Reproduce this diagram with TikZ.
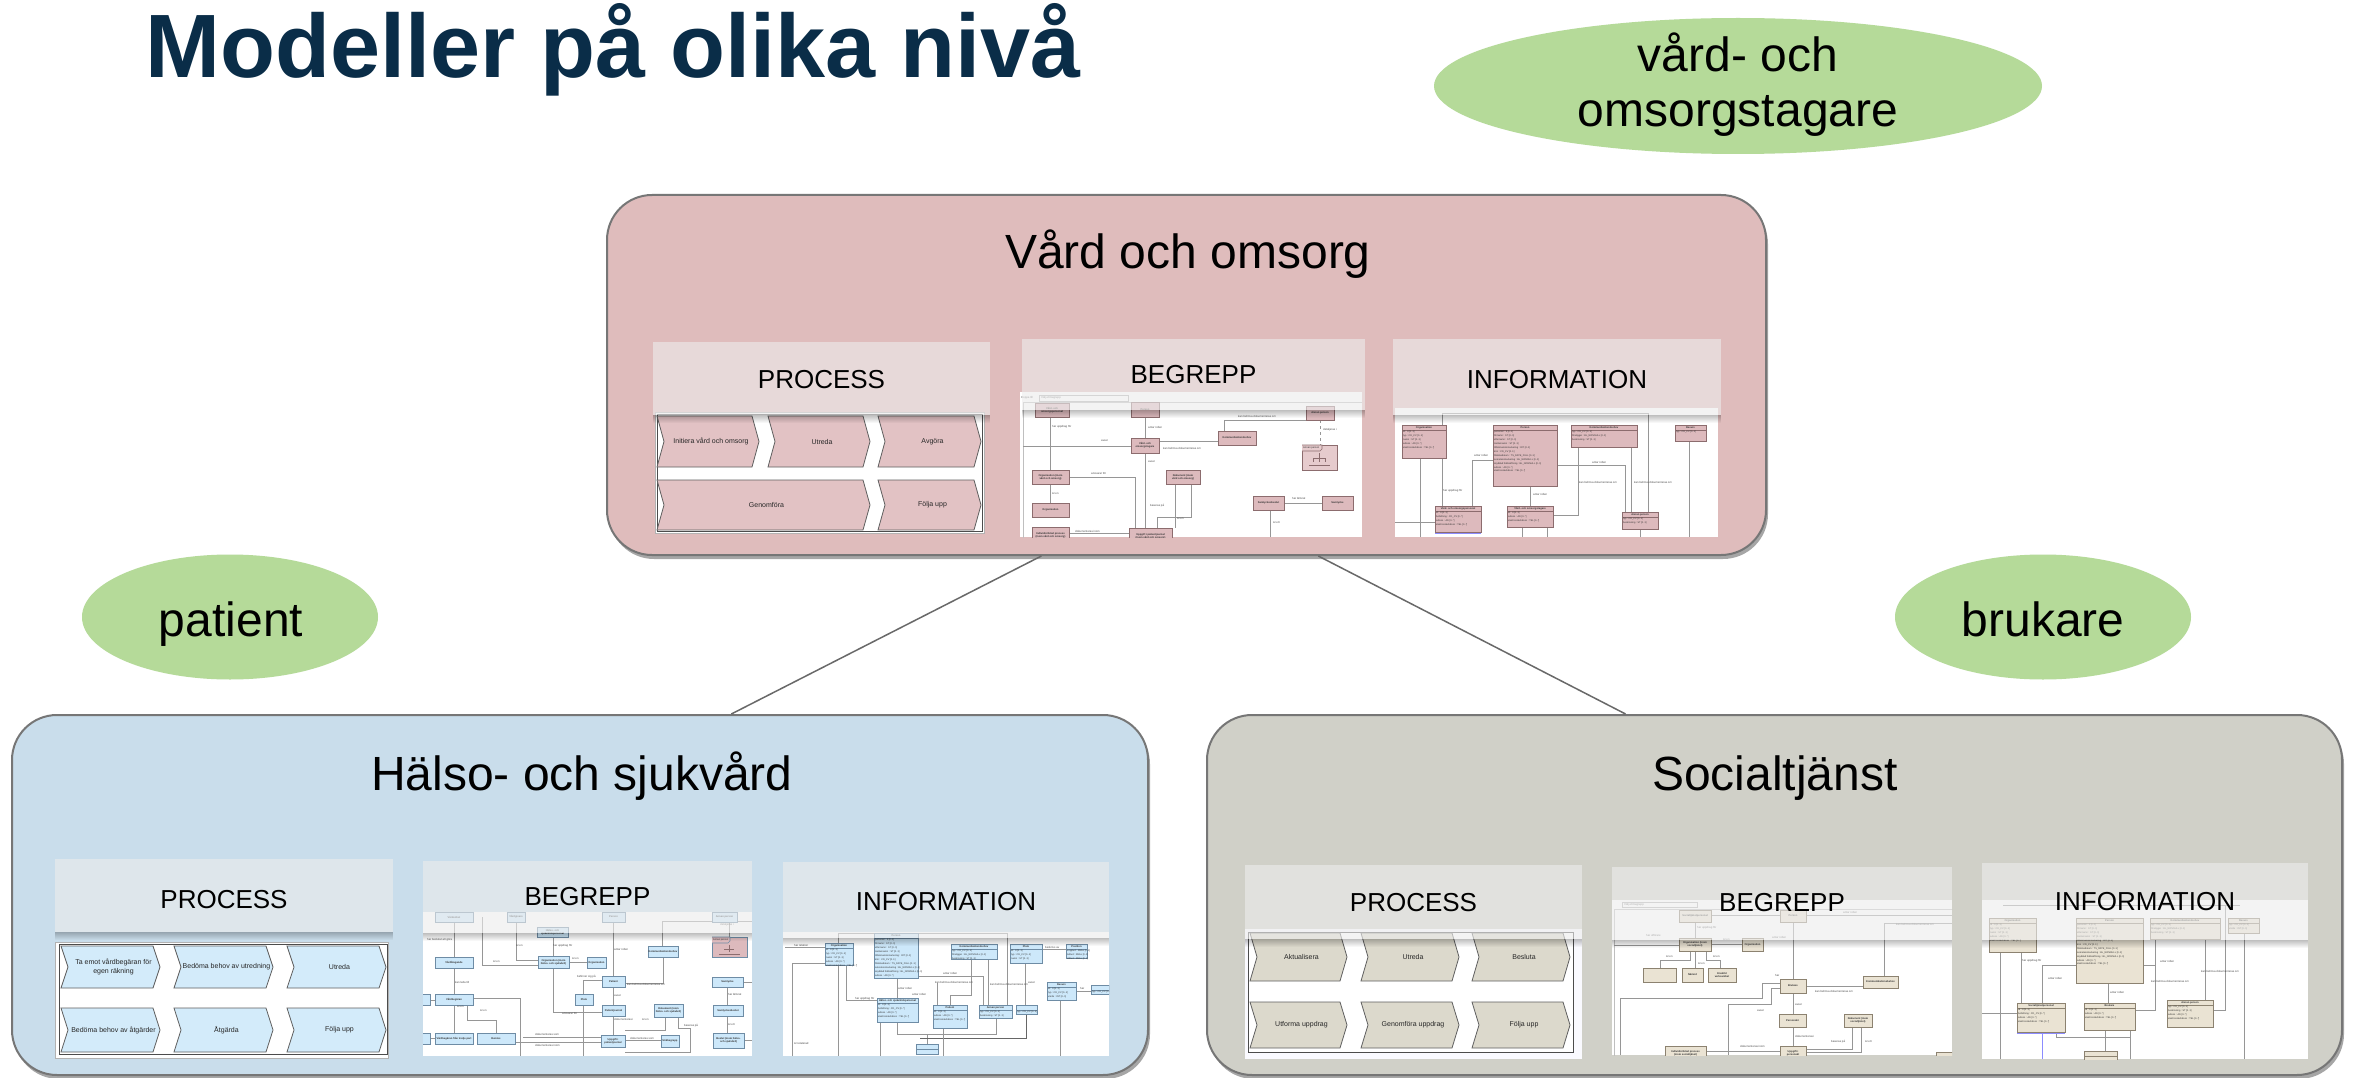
\documentclass[tikz,border=0pt]{standalone}
\usepackage{fontspec}
\setmainfont{Liberation Sans}
\usetikzlibrary{shadows,fadings,calc,shapes.geometric}
\definecolor{titleblue}{RGB}{10,45,72}
\definecolor{ellgreen}{RGB}{181,218,153}
\definecolor{pinkpanel}{RGB}{223,188,188}
\definecolor{bluepanel}{RGB}{201,221,235}
\definecolor{greypanel}{RGB}{208,208,200}
\definecolor{paneledge}{RGB}{118,118,118}
\definecolor{conncol}{RGB}{105,105,105}
\definecolor{hdrfill}{RGB}{236,236,236}
\definecolor{chevpink}{RGB}{226,194,196}
\definecolor{chevblue}{RGB}{211,235,250}
\definecolor{chevbeige}{RGB}{220,217,204}
\definecolor{chevedge}{RGB}{95,95,95}
\definecolor{umlpink}{RGB}{221,186,189}
\definecolor{umlPedge}{RGB}{140,108,110}
\definecolor{umlblue}{RGB}{205,232,250}
\definecolor{umlBedge}{RGB}{110,140,165}
\definecolor{umlbeige}{RGB}{234,227,211}
\definecolor{umlGedge}{RGB}{140,130,112}
\definecolor{ulinecol}{RGB}{150,150,150}
\newcounter{nn}
% tiny label
\newcommand{\tl}[3]{\stepcounter{nn}\node[tinylbl, anchor=west] (tl\arabic{nn}) at (#1,#2) {#3};}
% simple concept box
\newcommand{\ubx}[5]{\stepcounter{nn}\draw[ubox] (#1,#2) rectangle (#3,#4);
 \node[boxlbl] (bx\arabic{nn}) at ({(#1+#3)/2},{(#2+#4)/2}) {#5};}
% class box
\newcommand{\ucl}[6]{\stepcounter{nn}\draw[ubox] (#1,#2) rectangle (#3,#4);
 \draw[ubox] (#1,#2) rectangle (#3,{#2+5});
 \node[boxlbl] (ct\arabic{nn}) at ({(#1+#3)/2},{#2+2.6}) {#5};
 \node[attrlbl, anchor=north west] (ca\arabic{nn}) at ({#1+1},{#2+6}) {#6};}
% header overlay
\newcommand{\hdr}[7]{\fill[black, path fading=south, fill opacity=0.25] (#2,#5) rectangle (#4,{#5+8});
 \fill[hdrfill, fill opacity=0.62] (#2,#3) rectangle (#4,#5);
 \node[hdrtext] (#1) at ({(#2+#4)/2},#6) {#7};}
% chevron
\newcommand{\chev}[7]{\draw[chevron, fill=#6] (#2,#3) -- ({#4-7},#3) -- (#4,{(#3+#5)/2}) -- ({#4-7},#5) -- (#2,#5) -- ({#2+7},{(#3+#5)/2}) -- cycle;
 \node[chevtext] (#1) at ({(#2+#4)/2+3},{(#3+#5)/2}) {#7};}
\begin{document}
\begin{tikzpicture}[x=1pt,y=-1pt,
 panel/.style={draw=paneledge, line width=2pt, rounded corners=45pt, inner sep=0pt,
   drop shadow={shadow xshift=2pt, shadow yshift=-4pt, opacity=0.35, fill=black}},
 ell/.style={ellipse, fill=ellgreen, draw=none, inner sep=0pt},
 bigtext/.style={font=\fontsize{48}{56}\selectfont, text=black, inner sep=0pt},
 conn/.style={draw=conncol, line width=1.5pt},
 hdrtext/.style={font=\fontsize{26}{30}\selectfont, text=black, inner sep=0pt},
 chevron/.style={draw=chevedge, line width=0.8pt},
 chevtext/.style={font=\fontsize{7}{8.4}\selectfont, align=center, text=black!85, inner sep=0pt},
 frameo/.style={draw=gray!60, line width=0.8pt, fill=white},
 framei/.style={draw=black!70, line width=1pt},
 uline/.style={draw=ulinecol, line width=0.7pt},
 tinylbl/.style={font=\fontsize{2.8}{3.2}\selectfont, text=black!70, inner sep=0pt},
 boxlbl/.style={font=\bfseries\fontsize{2.6}{3.1}\selectfont, align=center, text=black!80, inner sep=0pt},
 attrlbl/.style={font=\fontsize{2.4}{3.9}\selectfont, align=left, text=black!80, inner sep=0pt},
 ubox/.style={draw=gray, fill=white, line width=0.6pt}]
\useasboundingbox (0,0) rectangle (2354,1078);
\fill[white] (0,0) rectangle (2354,1078);

% ---------- title ----------
\node[anchor=base west, inner sep=0pt, text=titleblue, font=\bfseries\fontsize{90}{100}\selectfont] (title) at (145,78) {Modeller på olika nivå};

% ---------- ellipses ----------
\node[ell, minimum width=608pt, minimum height=136pt] (vot) at (1738,86) {};
\node[bigtext, anchor=base] (votA) at (1738,72) {vård- och};
\node[bigtext, anchor=base] (votB) at (1738,127) {omsorgstagare};
\node[ell, minimum width=296pt, minimum height=125pt] (pat) at (230,617) {};
\node[bigtext, anchor=base] (patl) at (231,636) {patient};
\node[ell, minimum width=296pt, minimum height=125pt] (bru) at (2043,617) {};
\node[bigtext, anchor=base] (brul) at (2043,636) {brukare};

% ---------- panels ----------
\node[panel, fill=pinkpanel, minimum width=1159pt, minimum height=360pt] (vo) at (1186.5,375) {};
\node[panel, fill=bluepanel, minimum width=1136pt, minimum height=360pt] (hs) at (580,895) {};
\node[panel, fill=greypanel, minimum width=1135pt, minimum height=360pt] (st) at (1774.5,895) {};
\draw[conn] ($(vo.south west)!0.375!(vo.south east)$) -- ($(hs.north west)!0.633!(hs.north east)$);
\draw[conn] ($(vo.south west)!0.6135!(vo.south east)$) -- ($(st.north west)!0.369!(st.north east)$);
\node[bigtext, anchor=base] (vol) at (1188,269) {Vård och omsorg};
\node[bigtext, anchor=base] (hsl) at (582,790) {Hälso- och sjukvård};
\node[bigtext, anchor=base] (stl) at (1775,790) {Socialtjänst};

% ================= TOP PANEL =================
% PROCESS image
\draw[frameo] (655,412) rectangle (984,533);
\draw[framei] (657,414) rectangle (982,531);
\chev{tp1}{657}{416}{759}{467}{chevpink}{Initiera vård och omsorg}
\chev{tp2}{768}{416}{870}{467}{chevpink}{Utreda}
\chev{tp3}{878}{416}{981}{467}{chevpink}{Avgöra}
\chev{tp4}{657}{480}{870}{530}{chevpink}{Genomföra}
\chev{tp5}{878}{480}{981}{530}{chevpink}{Följa upp}

% BEGREPP image
\begin{scope}[ubox/.style={draw=umlPedge, fill=umlpink, line width=0.6pt}]
\clip (1020,392) rectangle (1362,537);
\fill[white] (1020,392) rectangle (1362,537);
\tl{1021}{398}{Hoppa till}
\draw[gray!60, line width=0.5pt, fill=white] (1039,395) rectangle (1128,401);
\tl{1041}{398}{Välj ett begrepp}
\draw[gray!50, line width=0.6pt] (1023,402) rectangle (1400,600);
\draw[uline] (1050,417) -- (1050,470);
\draw[uline] (1145,417) -- (1145,438);
\draw[uline] (1145,453) -- (1145,528);
\draw[uline] (1023,446) -- (1131,446);
\draw[uline] (1159,441) -- (1218,441);
\draw[uline] (1224,431) -- (1224,420) -- (1306,420);
\draw[uline, dashed] (1320,420) -- (1320,445);
\draw[uline] (1050,484) -- (1050,503);
\draw[uline] (1069,477) -- (1135,477) -- (1135,528);
\draw[uline] (1175,484) -- (1175,528);
\draw[uline] (1191,484) -- (1191,517) -- (1157,517) -- (1157,528);
\draw[uline] (1284,503) -- (1322,503);
\draw[uline] (1270,510) -- (1270,537);
\draw[uline] (1069,533) -- (1129,533);
\ubx{1035}{403}{1069}{417}{Vård- och\\omsorgspersonal}
\ubx{1131}{402}{1159}{417}{Person}
\ubx{1306}{406}{1334}{420}{Annan person}
\ubx{1218}{431}{1256}{445}{Kommunikationsbehov}
\ubx{1131}{438}{1159}{453}{Vård- och\\omsorgstagare}
\draw[ubox, fill=umlpink!75] (1302,445) rectangle (1337,470);
\draw[ubox, fill=umlpink!75] (1302,445) -- (1322,445) -- (1322,449) -- (1320,451) -- (1302,451);
\node[boxlbl, font=\fontsize{2.6}{3}\selectfont, anchor=west] (apk) at (1303,448) {Annan person};
\draw[umlPedge, line width=0.4pt] (1319,453) -- (1319,462) (1313,458) -- (1325,458) (1313,458) -- (1313,462) (1325,458) -- (1325,462) (1309,465) -- (1330,465);
\ubx{1032}{470}{1069}{484}{Organisation (inom\\vård och omsorg)}
\ubx{1166}{470}{1200}{484}{Dokument (inom\\vård och omsorg)}
\ubx{1032}{503}{1069}{517}{Organisation}
\ubx{1253}{496}{1284}{510}{Samtyckesbeslut}
\ubx{1322}{496}{1353}{510}{Samtycke}
\ubx{1032}{527}{1069}{543}{Individinriktad process\\(inom vård och omsorg)}
\ubx{1129}{528}{1172}{544}{Uppgift i patientjournal\\(inom vård och omsorg)}
\tl{1052}{427}{har uppdrag för}
\tl{1148}{427}{antar rollen}
\tl{1101}{441}{avser}
\tl{1163}{448}{kan behöva dokumenteras om}
\tl{1148}{462}{avser}
\tl{1091}{473}{ansvarar för}
\tl{1052}{494}{är en}
\tl{1150}{506}{baseras på}
\tl{1177}{519}{är en}
\tl{1292}{498}{har lämnat}
\tl{1273}{523}{är ett}
\tl{1075}{531}{dokumenteras inom}
\tl{1238}{416}{kan behöva dokumenteras om}
\tl{1323}{430}{detaljeras i}
\end{scope}

% INFORMATION image
\begin{scope}[ubox/.style={draw=umlPedge, fill=umlpink, line width=0.6pt}]
\clip (1395,408) rectangle (1718,537);
\fill[white] (1395,408) rectangle (1718,537);
\draw[uline] (1442,413) -- (1648,413);
\draw[uline] (1442,413) -- (1442,425);
\draw[uline] (1648,413) -- (1648,512);
\draw[uline] (1420,458) -- (1420,537);
\draw[uline] (1442,458) -- (1442,506);
\draw[uline] (1493,460) -- (1472,460) -- (1472,506);
\draw[uline] (1530,486) -- (1530,506);
\draw[uline] (1557,465) -- (1625,465) -- (1625,512);
\draw[uline] (1578,447) -- (1578,515) -- (1553,515);
\draw[uline] (1631,447) -- (1631,512);
\draw[uline] (1689,441) -- (1689,537);
\draw[uline] (1395,522) -- (1435,522);
\draw[uline] (1522,527) -- (1522,537);
\draw[uline] (1547,527) -- (1547,537);
\draw[uline] (1640,529) -- (1640,537);
\ucl{1402}{425}{1446}{458}{Organisation}{id : II [0..1]\\typ : CD\_CV [0..1]\\namn : ST [0..1]\\adress : AD [0..*]\\elektroniskAdress : TEL [0..*]}
\ucl{1493}{425}{1557}{486}{Person}{personId : II [0..1]\\förnamn : ST [0..1]\\efternamn : ST [0..1]\\mellannamn : ST [0..1]\\tilltalsnamnsmarkering : INT [0..1]\\kön : CD\_CV [0..1]\\födelsedatum : TS\_DATE\_FULL [0..1]\\sekretessmarkering : BL\_NONNULL [0..1]\\skyddad folkbokföring : BL\_NONNULL [0..1]\\adress : AD [0..*]\\elektroniskAdress : TEL [0..*]}
\ucl{1571}{425}{1637}{447}{Kommunikationsbehov}{typ : CD\_CV [0..1]\\föreligger : BL\_NONNULL [0..1]\\beskrivning : ST [0..1]}
\ucl{1675}{425}{1706}{441}{Resurs}{typ : CD\_CV [0..1]}
\ucl{1435}{506}{1481}{532}{Vård- och omsorgspersonal}{id : II [0..1]\\befattning : CD\_CV [0..*]\\adress : AD [0..*]\\elektroniskAdress : TEL [0..*]}
\ucl{1507}{506}{1553}{527}{Vård- och omsorgstagare}{id : II [0..1]\\adress : AD [0..*]\\elektroniskAdress : TEL [0..*]}
\ucl{1622}{512}{1658}{529}{Annan person}{typ : CD\_CV [0..1]\\beskrivning : ST [0..1]}
\draw[blue!45, line width=1pt] (1435,533) -- (1481,533);
\tl{1443}{491}{har uppdrag för}
\tl{1474}{455}{antar rollen}
\tl{1533}{494}{antar rollen}
\tl{1579}{482}{kan behöva dokumenteras om}
\tl{1592}{462}{antar rollen}
\tl{1634}{482}{kan behöva dokumenteras om}
\end{scope}

\hdr{vop}{653}{342}{990}{415}{380}{PROCESS}
\hdr{vob}{1022}{339}{1365}{410}{375}{BEGREPP}
\hdr{voi}{1393}{339}{1721}{415}{380}{INFORMATION}

% ================= HÄLSO- OCH SJUKVÅRD =================
\draw[frameo] (55,942) rectangle (388,1058);
\draw[framei] (59,944) rectangle (387,1054);
\chev{hp1}{61}{946}{160}{988}{chevblue}{Ta emot vårdbegäran för\\egen räkning}
\chev{hp2}{174}{946}{273}{988}{chevblue}{Bedöma behov av utredning}
\chev{hp3}{287}{946}{386}{988}{chevblue}{Utreda}
\chev{hp4}{61}{1008}{160}{1052}{chevblue}{Bedöma behov av åtgärder}
\chev{hp5}{174}{1008}{273}{1052}{chevblue}{Åtgärda}
\chev{hp6}{287}{1008}{386}{1052}{chevblue}{Följa upp}

\begin{scope}[ubox/.style={draw=umlBedge, fill=umlblue, line width=0.6pt}]
\clip (423,912) rectangle (752,1056);
\fill[white] (423,912) rectangle (752,1056);
\draw[uline] (454,922) -- (454,1033);
\draw[uline] (482,917) -- (482,965) -- (538,965);
\draw[uline] (516,922) -- (516,960) -- (538,960);
\draw[uline] (553,937) -- (553,956);
\draw[uline] (569,962) -- (587,962);
\draw[uline] (553,968) -- (553,1012) -- (602,1012);
\draw[uline] (613,922) -- (613,1035);
\draw[uline] (662,921) -- (662,946);
\draw[uline] (662,921) -- (752,921);
\draw[uline] (663,957) -- (663,983) -- (625,983);
\draw[uline] (602,980) -- (583,980) -- (583,1056);
\draw[uline] (727,987) -- (727,1033);
\draw[uline] (665,1017) -- (665,1030) -- (625,1030);
\draw[uline] (678,1017) -- (678,1028) -- (690,1028) -- (690,1052) -- (625,1052);
\draw[uline] (473,998) -- (520,998) -- (520,1056);
\draw[uline] (467,1005) -- (467,1020) -- (496,1020) -- (496,1033);
\draw[uline] (423,1000) -- (435,1000);
\draw[uline] (423,1038) -- (435,1038);
\draw[uline] (625,1040) -- (661,1040);
\draw[uline] (523,1037) -- (601,1037);
\draw[uline] (515,1042) -- (601,1042);
\draw[uline] (744,1040) -- (752,1040);
\draw[uline] (729,937) -- (729,922);
\draw[uline] (743,982) -- (752,982);
\ubx{435}{912}{473}{922}{Vårdenhet}
\ubx{507}{912}{525}{922}{Vårdgivare}
\ubx{602}{912}{625}{922}{Person}
\ubx{712}{912}{737}{922}{Annan person}
\ubx{537}{927}{568}{937}{Hälso- och\\sjukvårdspersonal}
\draw[ubox, fill=umlpink] (712,937) rectangle (747,957);
\draw[ubox, fill=umlpink] (712,937) -- (730,937) -- (730,941) -- (728,943) -- (712,943);
\node[boxlbl, font=\fontsize{2.4}{3}\selectfont, anchor=west] (apk2) at (713,940) {Annan person};
\draw[umlPedge, line width=0.4pt] (729,945) -- (729,952) (724,949) -- (734,949) (719,954) -- (740,954);
\ubx{435}{957}{473}{968}{Vårdåtagande}
\ubx{538}{956}{569}{968}{Organisation (inom\\hälso- och sjukvård)}
\ubx{587}{957}{606}{968}{Organisation}
\ubx{648}{946}{678}{957}{Kommunikationsbehov}
\ubx{602}{976}{625}{987}{Patient}
\ubx{712}{977}{743}{987}{Samtycke}
\ubx{435}{994}{473}{1005}{Vårdbegäran}
\ubx{575}{994}{593}{1005}{Plats}
\ubx{415}{994}{430}{1005}{}
\ubx{602}{1005}{625}{1016}{Patientjournal}
\ubx{654}{1004}{683}{1017}{Dokument (inom\\hälso- och sjukvård)}
\ubx{713}{1005}{743}{1016}{Samtyckesbeslut}
\ubx{435}{1033}{473}{1044}{Vårdbegäran från tredje part}
\ubx{477}{1033}{515}{1044}{Remiss}
\ubx{415}{1033}{430}{1044}{}
\ubx{601}{1035}{625}{1047}{Uppgift i\\patientjournal}
\ubx{661}{1035}{679}{1047}{Sökbegrepp}
\ubx{713}{1033}{744}{1048}{Beslut (inom hälso-\\och sjukvård)}
\tl{427}{940}{har beslutat att göra}
\tl{516}{946}{är en}
\tl{553}{946}{har uppdrag för}
\tl{614}{949}{antar rollen}
\tl{493}{962}{är en}
\tl{572}{959}{är en}
\tl{720}{925}{detaljeras i}
\tl{455}{982}{kan leda till}
\tl{577}{977}{befinner sig på}
\tl{627}{984}{kan behöva dokumenteras om}
\tl{614}{996}{avser}
\tl{457}{1007}{är en}
\tl{480}{1011}{är en}
\tl{562}{1013}{ansvarar för}
\tl{614}{1019}{dokumenteras i}
\tl{642}{1020}{är en}
\tl{728}{994}{har lämnat}
\tl{684}{1026}{baseras på}
\tl{728}{1025}{är ett}
\tl{535}{1034}{dokumenteras som}
\tl{535}{1045}{dokumenteras inom}
\tl{630}{1038}{dokumenteras som}
\end{scope}

\begin{scope}[ubox/.style={draw=umlBedge, fill=umlblue, line width=0.6pt}]
\clip (783,932) rectangle (1109,1056);
\fill[white] (783,932) rectangle (1109,1056);
\draw[uline] (838,933) -- (1007,933);
\draw[uline] (838,933) -- (838,943);
\draw[uline] (1007,933) -- (1007,1005);
\draw[uline] (785,947) -- (825,947);
\draw[uline] (792,963) -- (825,963);
\draw[uline] (792,963) -- (792,1056);
\draw[uline] (838,965) -- (838,1056);
\draw[uline] (846,965) -- (846,1000) -- (877,1000);
\draw[uline] (897,978) -- (897,998);
\draw[uline] (918,976) -- (983,976) -- (983,1005);
\draw[uline] (937,983) -- (937,1005);
\draw[uline] (971,959) -- (971,995) -- (950,995) -- (950,1005);
\draw[uline] (988,959) -- (988,1005);
\draw[uline] (1025,963) -- (1025,1005);
\draw[uline] (1042,949) -- (1066,949);
\draw[uline] (1076,991) -- (1091,991);
\draw[uline] (1060,1000) -- (1060,1056);
\draw[uline] (897,1022) -- (897,1034) -- (996,1034) -- (996,1018);
\draw[uline] (927,1034) -- (927,1044);
\draw[uline, line width=1pt, black!60] (920,1038) -- (1026,1038) -- (1026,1014);
\draw[uline] (943,1028) -- (943,1056);
\draw[uline] (880,1022) -- (880,1056);
\ucl{825}{943}{853}{965}{Organisation}{id : II [0..1]\\typ : CD\_CV [0..1]\\namn : ST [0..1]\\adress : AD [0..*]\\elektroniskAdress : TEL [0..*]}
\ucl{874}{933}{918}{978}{Person}{personId : II [0..1]\\förnamn : ST [0..1]\\efternamn : ST [0..1]\\mellannamn : ST [0..1]\\tilltalsnamnsmarkering : INT [0..1]\\kön : CD\_CV [0..1]\\födelsedatum : TS\_DATE\_FULL [0..1]\\sekretessmarkering : BL\_NONNULL [0..1]\\skyddad folkbokföring : BL\_NONNULL [0..1]\\adress : AD [0..*]}
\ucl{951}{944}{997}{959}{Kommunikationsbehov}{typ : CD\_CV [0..1]\\föreligger : BL\_NONNULL [0..1]\\beskrivning : ST [0..1]}
\ucl{1010}{944}{1042}{963}{Plats}{id : II [0..1]\\typ : CD\_CV [0..1]\\namn : ST [0..1]}
\ucl{1066}{944}{1087}{958}{Position}{longitud : REAL [0..1]\\latitud : REAL [0..1]\\altitud : REAL [0..1]}
\ucl{877}{998}{918}{1022}{Hälso- och sjukvårdspersonal}{id : II [0..1]\\befattning : CD\_CV [0..*]\\adress : AD [0..*]\\elektroniskAdress : TEL [0..*]}
\ucl{933}{1005}{967}{1028}{Patient}{id : II [0..1]\\adress : AD [0..*]\\elektroniskAdress : TEL [0..*]}
\ucl{979}{1005}{1012}{1018}{Annan person}{typ : CD\_CV [0..1]\\beskrivning : ST [0..1]}
\ucl{1016}{1005}{1037}{1014}{}{typ : CD\_CV [0..1]}
\ucl{1047}{982}{1076}{1000}{Resurs}{id : II [0..1]\\typ : CD\_CV [0..1]\\värde : INT [0..1]}
\ucl{1091}{985}{1109}{994}{}{typ : CD\_CV [0..1]}
\ucl{916}{1044}{938}{1054}{}{}
\tl{855}{999}{har uppdrag för}
\tl{898}{988}{antar rollen}
\tl{912}{994}{antar rollen}
\tl{935}{982}{kan behöva dokumenteras om}
\tl{943}{973}{antar rollen}
\tl{990}{984}{kan behöva dokumenteras om}
\tl{1028}{983}{avser}
\tl{1045}{947}{beskrivs av}
\tl{1080}{988}{har}
\tl{794}{945}{har relation}
\tl{794}{1043}{är relaterad}
\end{scope}

\hdr{hsp}{55}{859}{393}{932}{900}{PROCESS}
\hdr{hsb}{423}{861}{752}{933}{897}{BEGREPP}
\hdr{hsi}{783}{862}{1109}{938}{902}{INFORMATION}

% ================= SOCIALTJÄNST =================
\fill[white!95!blue!40] (1245,929) rectangle (1582,1059);
\draw[frameo] (1248,932) rectangle (1573,1052);
\draw[framei] (1248,932) rectangle (1573,1052);
\chev{sp1}{1250}{933}{1347}{981}{chevbeige}{Aktualisera}
\chev{sp2}{1361}{933}{1459}{981}{chevbeige}{Utreda}
\chev{sp3}{1472}{933}{1570}{981}{chevbeige}{Besluta}
\chev{sp4}{1250}{1002}{1347}{1048}{chevbeige}{Utforma uppdrag}
\chev{sp5}{1361}{1002}{1459}{1048}{chevbeige}{Genomföra uppdrag}
\chev{sp6}{1472}{1002}{1570}{1048}{chevbeige}{Följa upp}

\begin{scope}[ubox/.style={draw=umlGedge, fill=umlbeige, line width=0.6pt}]
\clip (1612,900) rectangle (1952,1055);
\fill[white] (1612,900) rectangle (1952,1055);
\draw[gray!60, line width=0.5pt, fill=white] (1622,902) rectangle (1697,907);
\tl{1624}{904.5}{Välj ett begrepp}
\draw[gray!50, line width=0.6pt] (1614,909) rectangle (1990,1100);
\draw[uline] (1695,922) -- (1695,938);
\draw[uline] (1793,922) -- (1793,1046);
\draw[uline] (1711,944) -- (1742,944);
\draw[uline] (1614,945) -- (1679,945);
\draw[uline] (1695,951) -- (1695,968);
\draw[uline] (1690,951) -- (1690,960) -- (1660,960) -- (1660,968);
\draw[uline] (1706,951) -- (1706,960) -- (1720,960) -- (1720,968);
\draw[uline] (1806,986) -- (1863,986);
\draw[uline] (1884,976) -- (1884,923) -- (1952,923);
\draw[uline] (1780,983) -- (1762,983) -- (1762,998) -- (1620,998) -- (1620,1055);
\draw[uline] (1780,988) -- (1771,988) -- (1771,1004) -- (1728,1004) -- (1728,1055);
\draw[uline] (1852,1027) -- (1852,1049) -- (1806,1049);
\draw[uline] (1861,1027) -- (1861,1052) -- (1806,1052);
\draw[uline] (1706,1051) -- (1780,1051);
\draw[uline] (1806,915) -- (1952,915);
\draw[uline] (1711,915) -- (1780,915);
\ubx{1679}{910}{1711}{922}{Socialtjänstpersonal}
\ubx{1780}{910}{1806}{922}{Person}
\ubx{1679}{938}{1711}{951}{Organisation (inom\\socialtjänst)}
\ubx{1742}{938}{1763}{951}{Organisation}
\ubx{1643}{968}{1676}{982}{}
\ubx{1682}{968}{1703}{982}{Nämnd}
\ubx{1708}{968}{1736}{982}{Enskild\\verksamhet}
\ubx{1780}{979}{1806}{993}{Brukare}
\ubx{1863}{976}{1898}{988}{Kommunikationsbehov}
\ubx{1779}{1014}{1806}{1027}{Personakt}
\ubx{1844}{1014}{1872}{1027}{Dokument (inom\\socialtjänst)}
\ubx{1665}{1046}{1706}{1060}{Individinriktad process\\(inom socialtjänst)}
\ubx{1780}{1046}{1806}{1060}{Uppgift i\\personakt}
\ubx{1936}{1052}{1960}{1062}{}
\tl{1697}{928}{har uppdrag för}
\tl{1772}{937}{antar rollen}
\tl{1723}{940}{är en}
\tl{1646}{935}{har utförare}
\tl{1666}{957}{är en}
\tl{1698}{964}{är en}
\tl{1713}{957}{är en}
\tl{1775}{975}{har}
\tl{1815}{991}{kan behöva dokumenteras om}
\tl{1795}{1005}{avser}
\tl{1757}{1011}{avser}
\tl{1795}{1036}{dokumenteras i}
\tl{1831}{1042}{baseras på}
\tl{1865}{1042}{är ett}
\tl{1740}{1046}{dokumenteras inom}
\tl{1896}{924}{kan behöva dokumenteras om}
\tl{1843}{912}{antar rollen}
\end{scope}

\begin{scope}[ubox/.style={draw=umlGedge, fill=umlbeige, line width=0.6pt}]
\clip (1982,900) rectangle (2308,1059);
\fill[white] (1982,900) rectangle (2308,1059);
\draw[uline] (2003,905) -- (2240,905);
\draw[uline] (2000,952) -- (2000,1059);
\draw[uline] (2021,952) -- (2021,1003);
\draw[uline] (2076,965) -- (2042,965) -- (2042,1003);
\draw[uline] (2108,983) -- (2108,1003);
\draw[uline] (2143,965) -- (2155,965) -- (2155,1010) -- (2135,1010);
\draw[uline] (2155,939) -- (2155,965);
\draw[uline] (2205,939) -- (2205,1000);
\draw[uline] (2244,933) -- (2244,1059);
\draw[uline] (2225,905) -- (2225,1010) -- (2213,1010);
\draw[uline] (1982,1013) -- (2017,1013);
\draw[uline] (2056,1032) -- (2056,1037) -- (2130,1037);
\draw[uline] (2105,1030) -- (2105,1051);
\draw[uline] (2130,1030) -- (2130,1059);
\draw[blue!45, line width=1pt] (2042,1033) -- (2042,1059) (2017,1033) -- (2065,1033);
\ucl{1989}{918}{2036}{952}{Organisation}{id : II [0..1]\\typ : CD\_CV [0..1]\\namn : ST [0..1]\\adress : AD [0..*]\\elektroniskAdress : TEL [0..*]}
\ucl{2076}{918}{2143}{983}{Person}{personId : II [0..1]\\förnamn : ST [0..1]\\efternamn : ST [0..1]\\mellannamn : ST [0..1]\\tilltalsnamnsmarkering : INT [0..1]\\kön : CD\_CV [0..1]\\födelsedatum : TS\_DATE\_FULL [0..1]\\sekretessmarkering : BL\_NONNULL [0..1]\\skyddad folkbokföring : BL\_NONNULL [0..1]\\adress : AD [0..*]\\elektroniskAdress : TEL [0..*]}
\ucl{2150}{918}{2220}{939}{Kommunikationsbehov}{typ : CD\_CV [0..1]\\föreligger : BL\_NONNULL [0..1]\\beskrivning : ST [0..1]}
\ucl{2228}{918}{2259}{933}{Resurs}{typ : CD\_CV [0..1]\\värde : INT [0..1]}
\ucl{2017}{1003}{2065}{1032}{Socialtjänstpersonal}{id : II [0..1]\\befattning : CD\_CV [0..*]\\adress : AD [0..*]\\elektroniskAdress : TEL [0..*]}
\ucl{2084}{1003}{2135}{1030}{Brukare}{id : II [0..1]\\adress : AD [0..*]\\elektroniskAdress : TEL [0..*]}
\ucl{2167}{1000}{2213}{1027}{Annan person}{typ : CD\_CV [0..1]\\beskrivning : ST [0..1]\\adress : AD [0..*]\\elektroniskAdress : TEL [0..*]}
\ucl{2084}{1051}{2117}{1065}{}{}
\tl{2022}{961}{har uppdrag för}
\tl{2048}{978}{antar rollen}
\tl{2110}{992}{antar rollen}
\tl{2151}{981}{kan behöva dokumenteras om}
\tl{2160}{961}{antar rollen}
\tl{2201}{971}{kan behöva dokumenteras om}
\end{scope}

\hdr{stp}{1245}{865}{1582}{939}{903}{PROCESS}
\hdr{stb}{1612}{867}{1952}{940}{903}{BEGREPP}
\hdr{sti}{1982}{863}{2308}{940}{902}{INFORMATION}
\end{tikzpicture}
\end{document}
